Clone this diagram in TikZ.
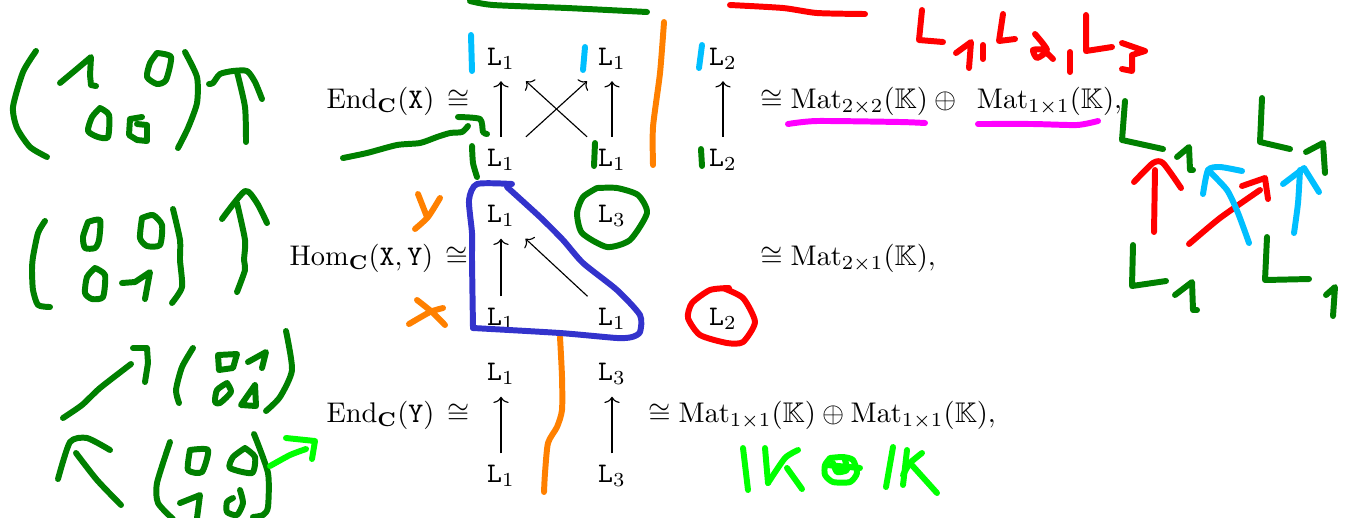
\documentclass[tikz,border=0pt]{standalone}
\usepackage{amsmath,amssymb}
\usetikzlibrary{arrows.meta}
\definecolor{inkgreen}{RGB}{0,128,0}
\definecolor{inkred}{RGB}{255,0,0}
\definecolor{inkcyan}{RGB}{0,191,255}
\definecolor{inkorange}{RGB}{255,128,0}
\definecolor{inkblue}{RGB}{51,51,204}
\definecolor{inkpink}{RGB}{255,0,255}
\definecolor{inklime}{RGB}{0,255,0}

\begin{document}
\begin{tikzpicture}[
  x=0.352pt, y=-0.352pt,
  lab/.style={minimum width=22.6pt, minimum height=15.6pt, inner sep=0pt, text height=6.1pt, text depth=1.5pt},
  eqn/.style={anchor=base west, inner sep=0pt},
  arr/.style={-{Computer Modern Rightarrow[length=2.2pt,width=5.4pt]}, line width=0.4pt},
  pen/.style={line width=2.1pt, line cap=round, line join=round, smooth, tension=0.4},
  gr/.style={pen, draw=inkgreen},
  rd/.style={pen, draw=inkred},
  cy/.style={pen, draw=inkcyan},
  og/.style={pen, draw=inkorange},
  bl/.style={pen, draw=inkblue},
  pk/.style={pen, draw=inkpink},
  lm/.style={pen, draw=inklime}]
\useasboundingbox (0,0) rectangle (1351,517);
% the three quivers
\node[lab] (a1) at (501,58.5) {$\mathtt{L}_1$};
\node[lab] (a2) at (612,58.5) {$\mathtt{L}_1$};
\node[lab] (a3) at (723,58.5) {$\mathtt{L}_2$};
\node[lab] (b1) at (501,159.5) {$\mathtt{L}_1$};
\node[lab] (b2) at (612,159.5) {$\mathtt{L}_1$};
\node[lab] (b3) at (723,159.5) {$\mathtt{L}_2$};
\node[lab] (c1) at (501,216) {$\mathtt{L}_1$};
\node[lab] (c2) at (612,216) {$\mathtt{L}_3$};
\node[lab] (d1) at (501,319) {$\mathtt{L}_1$};
\node[lab] (d2) at (612,319) {$\mathtt{L}_1$};
\node[lab] (d3) at (723,319) {$\mathtt{L}_2$};
\node[lab] (e1) at (501,374) {$\mathtt{L}_1$};
\node[lab] (e2) at (612,374) {$\mathtt{L}_3$};
\node[lab] (f1) at (501,476) {$\mathtt{L}_1$};
\node[lab] (f2) at (612,476) {$\mathtt{L}_3$};
\foreach \i/\j in {b1/a1,b1/a2,b2/a1,b2/a2,b3/a3,d1/c1,d2/c1,f1/e1,f2/e2} \draw[arr] (\i) -- (\j);
% the isomorphisms
\node[eqn] (endx) at (326,108) {$\mathrm{End}_{\mathbf{C}}(\mathtt{X})\,\cong$};
\node[eqn] (homxy) at (289,265) {$\mathrm{Hom}_{\mathbf{C}}(\mathtt{X},\mathtt{Y})\,\cong$};
\node[eqn] (endy) at (326,422) {$\mathrm{End}_{\mathbf{C}}(\mathtt{Y})\,\cong$};
\node[eqn] (matx) at (760,108) {$\cong\mathrm{Mat}_{2\times2}(\mathbb{K})\oplus\hspace{5pt}\mathrm{Mat}_{1\times1}(\mathbb{K}),$};
\node[eqn] (matxy) at (760,265) {$\cong\mathrm{Mat}_{2\times1}(\mathbb{K}),$};
\node[eqn] (maty) at (648,422) {$\cong\mathrm{Mat}_{1\times1}(\mathbb{K})\oplus\mathrm{Mat}_{1\times1}(\mathbb{K}),$};
% matrix for the first arrow
\draw[gr] plot coordinates {(36,51) (23,72) (13,107) (17,128) (30,147) (47,157)};
\draw[gr,sharp plot] plot coordinates {(60,83) (78,68) (91,57) (90,75) (91,85) (96,86)};
\draw[gr] plot coordinates {(157,53) (171,57) (166,80) (157,84) (147,77) (150,63) (157,53)};
\draw[gr] plot coordinates {(100,108) (109,115) (108,137) (98,137) (88,131) (92,117) (100,108)};
\draw[gr,sharp plot] plot coordinates {(142,117) (130,119) (129,135) (137,140) (147,141) (147,125) (137,124)};
\draw[gr] plot coordinates {(185,52) (197,77) (197,103) (188,128) (178,148)};
\draw[gr] plot coordinates {(246,142) (245,107) (237,72)};
\draw[gr] plot coordinates {(209,84) (213,83) (220,74) (233,71) (247,71) (255,82) (262,99)};
% matrix for the second arrow
\draw[gr] plot coordinates {(45,221) (38,233) (33,257) (32,270) (33,290) (38,305) (50,307)};
\draw[gr] plot coordinates {(88,222) (100,220) (99,240) (95,248) (85,248) (83,237) (88,222)};
\draw[gr] plot coordinates {(142,218) (153,215) (162,225) (160,245) (147,246) (140,238) (142,218)};
\draw[gr] plot coordinates {(173,209) (180,240) (180,260) (182,287) (172,303)};
\draw[gr] plot coordinates {(237,203) (245,240) (244,260) (245,270) (237,292)};
\draw[gr] plot coordinates {(222,219) (245,191) (257,203) (267,223)};
\draw[gr] plot coordinates {(95,268) (105,275) (103,297) (92,299) (85,293) (87,277) (95,268)};
\draw[gr,sharp plot] plot coordinates {(122,283) (135,282) (150,272) (145,299)};
% matrix for the third arrow
\draw[gr] plot coordinates {(63,418) (82,405) (100,388) (131,364)};
\draw[gr,sharp plot] plot coordinates {(133,348) (147,348) (148,363) (145,382)};
\draw[gr] plot coordinates {(193,348) (182,367) (176,390) (179,403)};
\draw[gr,sharp plot] plot coordinates {(218,355) (237,354) (233,368) (219,370) (218,355)};
\draw[gr,sharp plot] plot coordinates {(248,362) (266,352) (262,368)};
\draw[gr] plot coordinates {(227,383) (231,392) (220,403) (215,402) (217,390) (227,383)};
\draw[gr,sharp plot] plot coordinates {(255,385) (256,406) (241,405) (255,385)};
\draw[gr] plot coordinates {(286,331) (292,370) (280,397) (266,411)};
% matrix for the fourth arrow
\draw[gr] plot coordinates {(76,453) (97,480) (121,505)};
\draw[gr] plot coordinates {(58,479) (70,442) (87,438) (110,450)};
\draw[gr] plot coordinates {(170,442) (157,483) (158,503) (173,519)};
\draw[gr] plot coordinates {(190,450) (208,450) (202,472) (188,470) (190,450)};
\draw[gr] plot coordinates {(245,448) (255,457) (252,473) (230,468) (233,457) (245,448)};
\draw[gr,sharp plot] plot coordinates {(180,503) (200,495) (197,518)};
\draw[gr] plot coordinates {(240,490) (243,503) (237,515) (227,512) (227,502) (233,498)};
\draw[gr] plot coordinates {(254,434) (268,473) (268,507) (263,515) (253,517)};
\draw[lm] plot coordinates {(270,466) (290,455) (306,449)};
\draw[lm,sharp plot] plot coordinates {(286,438) (315,441) (312,459)};
% marks on the quivers
\draw[gr] plot coordinates {(343,158) (367,153) (397,145) (420,143) (437,137) (450,133) (462,132) (468,126)};
\draw[gr] plot coordinates {(458,117) (480,119) (483,132) (487,134)};
\draw[gr] plot coordinates {(470,1) (493,5) (567,8) (647,12)};
\draw[rd] plot coordinates {(730,5) (783,8) (817,13) (865,14)};
\draw[cy] plot coordinates {(471,35) (472,71)};
\draw[cy] plot coordinates {(585,47) (583,70)};
\draw[cy] plot coordinates {(702,45) (699,68)};
\draw[gr] plot coordinates {(472,146) (473,163) (477,177)};
\draw[gr] plot coordinates {(595,143) (594,166)};
\draw[gr] plot coordinates {(701,149) (702,166)};
\draw[og] plot coordinates {(664,22) (660,73) (653,127) (653,165)};
\draw[og] plot coordinates {(560,337) (562,377) (562,410) (557,427) (548,443) (545,473) (544,492)};
\draw[og] plot coordinates {(418,194) (427,217)};
\draw[og] plot coordinates {(440,198) (428,217) (415,229)};
\draw[og] plot coordinates {(417,300) (432,312) (445,325)};
\draw[og] plot coordinates {(443,308) (430,312) (409,324)};
\draw[gr] plot coordinates {(597,188) (583,197) (577,213) (582,233) (607,247) (630,240) (647,213) (638,195) (617,188) (597,188)};
\draw[rd] plot coordinates {(729,288) (710,290) (692,303) (688,318) (700,335) (727,343) (743,342) (755,322) (743,298) (723,288)};
\draw[bl] plot coordinates {(512,184) (477,184) (469,200) (472,233) (472,260) (473,328)};
\draw[bl] plot coordinates {(473,328) (560,333) (617,338) (632,337) (640,332) (640,315) (617,290) (583,263) (563,240) (540,217) (507,187)};
\draw[pk] plot coordinates {(788,124) (817,121) (900,122) (925,123)};
\draw[pk] plot coordinates {(978,124) (1033,124) (1077,125) (1098,121)};
% K + K
\draw[lm] plot coordinates {(743,448) (748,490)};
\draw[lm] plot coordinates {(765,448) (768,483)};
\draw[lm] plot coordinates {(798,450) (785,458) (768,483)};
\draw[lm] plot coordinates {(787,468) (802,489)};
\draw[lm] plot coordinates {(830,458) (825,465) (825,475) (833,482) (850,482) (857,473) (853,460) (843,457) (830,458)};
\draw[lm] plot coordinates {(827,465) (860,468)};
\draw[lm] plot coordinates {(833,463) (837,472) (847,470) (845,460)};
\draw[lm] plot coordinates {(893,447) (886,487)};
\draw[lm] plot coordinates {(907,450) (903,485)};
\draw[lm] plot coordinates {(922,453) (910,463) (903,475)};
\draw[lm] plot coordinates {(910,463) (937,493)};
% L1, L2, L3
\draw[rd,sharp plot] plot coordinates {(922,10) (919,40) (943,42)};
\draw[rd,sharp plot] plot coordinates {(956,53) (971,42) (969,68)};
\draw[rd] plot coordinates {(983,45) (983,59)};
\draw[rd,sharp plot] plot coordinates {(1003,14) (999,41) (1015,39)};
\draw[rd] plot coordinates {(1035,34) (1047,50) (1037,58) (1033,50) (1043,50) (1053,59)};
\draw[rd] plot coordinates {(1070,52) (1070,72)};
\draw[rd,sharp plot] plot coordinates {(1086,15) (1086,51) (1112,47)};
\draw[rd,sharp plot] plot coordinates {(1122,43) (1145,51) (1132,55) (1132,71) (1122,69)};
% quiver on the right
\draw[gr,sharp plot] plot coordinates {(1125,101) (1122,140) (1163,149)};
\draw[gr,sharp plot] plot coordinates {(1177,157) (1189,147) (1190,170) (1193,170)};
\draw[gr,sharp plot] plot coordinates {(1262,98) (1260,142) (1290,149)};
\draw[gr,sharp plot] plot coordinates {(1306,152) (1323,143) (1325,173)};
\draw[gr,sharp plot] plot coordinates {(1133,245) (1132,286) (1166,281)};
\draw[gr,sharp plot] plot coordinates {(1175,295) (1192,282) (1193,310) (1197,310)};
\draw[gr,sharp plot] plot coordinates {(1267,237) (1265,280) (1309,279)};
\draw[gr,sharp plot] plot coordinates {(1326,295) (1335,287) (1333,316)};
\draw[rd] plot coordinates {(1154,232) (1155,170)};
\draw[rd] plot coordinates {(1134,182) (1153,163) (1163,163) (1181,188)};
\draw[rd] plot coordinates {(1189,244) (1220,218) (1260,190)};
\draw[rd,sharp plot] plot coordinates {(1242,186) (1265,178) (1268,199)};
\draw[cy] plot coordinates {(1249,243) (1238,213) (1227,190) (1208,170)};
\draw[cy] plot coordinates {(1203,194) (1208,170) (1220,167) (1242,171)};
\draw[cy] plot coordinates {(1294,233) (1298,203) (1300,170)};
\draw[cy,sharp plot] plot coordinates {(1283,184) (1304,168) (1319,192)};
\end{tikzpicture}
\end{document}
